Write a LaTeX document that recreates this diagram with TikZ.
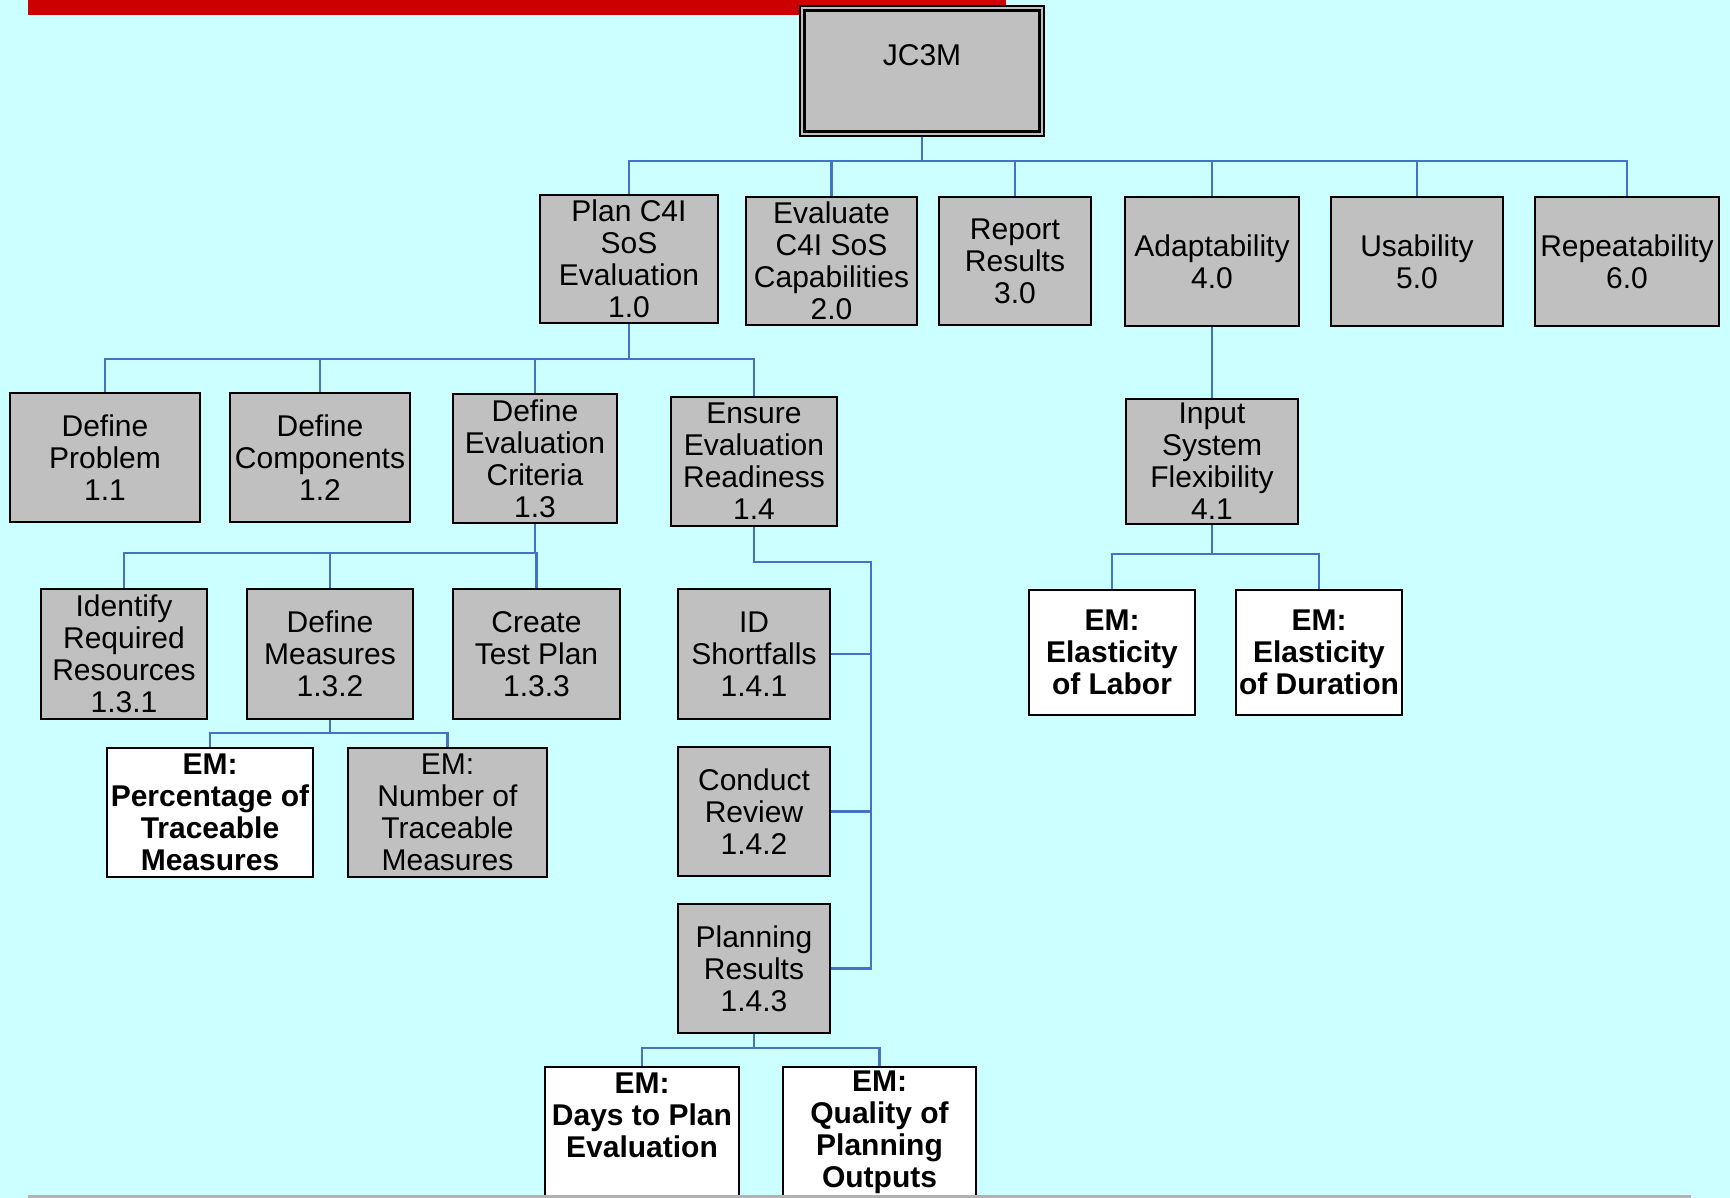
\documentclass[tikz,border=0pt]{standalone}
\usepackage{fontspec}
\usepackage{tikz}
\usetikzlibrary{positioning}

\newfontfamily\wbsfont{Liberation Sans}

\definecolor{slidebg}{HTML}{CCFFFF}
\definecolor{slidered}{HTML}{CC0000}
\definecolor{boxgray}{HTML}{C0C0C0}
\definecolor{linkblue}{HTML}{4472C4}

\tikzset{
  box/.style={draw=black, line width=1pt, fill=boxgray, align=center,
    inner sep=0pt, font=\wbsfont\fontsize{15}{16}\selectfont},
  embox/.style={box, fill=white, font=\wbsfont\bfseries\fontsize{15}{16}\selectfont},
  link/.style={draw=linkblue, line width=1.1pt},
}

% box from its two corners (in pixels): name, style, x1, y1, x2, y2, text
\newcommand{\wbsbox}[7]{%
  \pgfmathsetmacro\bw{(#5-#3)*0.5}%
  \pgfmathsetmacro\bh{(#6-#4)*0.5}%
  \node[#2, minimum width=\bw pt, minimum height=\bh pt] (#1)
    at ({(#3+#5)/2},{(#4+#6)/2}) {#7};}

\begin{document}
\begin{tikzpicture}[x=0.5pt, y=-0.5pt]

    % -- Slide background --
    \clip (0,0) rectangle (1730,1198);
    \fill[slidebg] (0,0) rectangle (1730,1198);
    \fill[slidered] (28,0) rectangle (1006,15);

    % -- Top box (double frame) --
    \wbsbox{jc}{box, line width=0.7pt}{800}{6}{1044}{136}{JC3M\\\mbox{}}
    \draw[line width=1.3pt] ([shift={(5,5)}]jc.north west) rectangle ([shift={(-5,-5)}]jc.south east);

    % -- Level 1 --
    \wbsbox{pl}{box}{540}{195}{718}{323}{Plan C4I\\SoS\\Evaluation\\1.0}
    \wbsbox{ev}{box}{746}{197}{917}{325}{Evaluate\\C4I SoS\\Capabilities\\2.0}
    \wbsbox{rp}{box}{939}{197}{1091}{325}{Report\\Results\\3.0}
    \wbsbox{ad}{box}{1125}{197}{1299}{326}{Adaptability\\4.0}
    \wbsbox{us}{box}{1331}{197}{1503}{326}{Usability\\5.0}
    \wbsbox{re}{box}{1535}{197}{1719}{326}{Repeatability\\6.0}

    % -- Level 2 under 1.0 --
    \wbsbox{dp}{box}{10}{393}{200}{522}{Define\\Problem\\1.1}
    \wbsbox{dc}{box}{230}{393}{410}{522}{Define\\Components\\1.2}
    \wbsbox{dec}{box}{453}{394}{617}{523}{Define\\Evaluation\\Criteria\\1.3}
    \wbsbox{er}{box}{671}{397}{837}{526}{Ensure\\Evaluation\\Readiness\\1.4}

    % -- Level 3 under 1.3 and 1.4 --
    \wbsbox{ir}{box}{41}{589}{207}{719}{Identify\\Required\\Resources\\1.3.1}
    \wbsbox{dm}{box}{247}{589}{413}{719}{Define\\Measures\\1.3.2}
    \wbsbox{ct}{box}{453}{589}{620}{719}{Create\\Test Plan\\1.3.3}
    \wbsbox{ids}{box}{678}{589}{830}{719}{ID\\Shortfalls\\1.4.1}
    \wbsbox{cr}{box}{678}{747}{830}{876}{Conduct\\Review\\1.4.2}
    \wbsbox{pr}{box}{678}{904}{830}{1033}{Planning\\Results\\1.4.3}

    % -- Under 4.0 --
    \wbsbox{isf}{box}{1126}{399}{1298}{524}{Input\\System\\Flexibility\\4.1}
    \wbsbox{eml}{embox}{1029}{590}{1195}{715}{EM:\\Elasticity\\of Labor}
    \wbsbox{emd}{embox}{1236}{590}{1402}{715}{EM:\\Elasticity\\of Duration}

    % -- Evaluation measures --
    \wbsbox{emp}{embox}{107}{748}{313}{877}{EM:\\Percentage of\\Traceable\\Measures}
    \wbsbox{emn}{box}{348}{748}{547}{877}{EM:\\Number of\\Traceable\\Measures}
    \wbsbox{emdays}{embox}{545}{1067}{739}{1196}{EM:\\Days to Plan\\Evaluation\\\mbox{}}
    \wbsbox{emq}{embox}{783}{1067}{976}{1198}{EM:\\Quality of\\Planning\\Outputs}

    % -- Bus lines --
    \coordinate (busA) at (922,161);
    \coordinate (busB) at (629,359);
    \coordinate (busC) at (535,553);
    \coordinate (busD) at (330,733);
    \coordinate (busE) at (754,1048);
    \coordinate (busF) at (1212,554);
    \coordinate (rail) at (871,562);

    \foreach \c in {pl,ev,rp,ad,us,re}
      \draw[link] (jc.south) -- (busA) -| (\c.north);
    \foreach \c in {dp,dc,dec,er}
      \draw[link] (pl.south) -- (busB) -| (\c.north);
    \foreach \c in {ir,dm,ct}
      \draw[link] (dec.south) -- (busC) -| (\c.north);
    \foreach \c in {emp,emn}
      \draw[link] (dm.south) -- (busD) -| (\c.north);
    \foreach \c in {emdays,emq}
      \draw[link] (pr.south) -- (busE) -| (\c.north);
    \foreach \c in {eml,emd}
      \draw[link] (isf.south) -- (busF) -| (\c.north);
    \draw[link] (ad.south) -- (isf.north);

    % -- Side rail for 1.4 --
    \draw[link] (er.south) |- (rail) -- (rail |- pr.east) -- (pr.east);
    \foreach \c in {ids,cr}
      \draw[link] (\c.east) -- (\c.east -| rail);

    % -- Slide footer line --
    \draw[line width=1.5pt, black!30] (28,1196) -- (1691,1196);

\end{tikzpicture}
\end{document}
